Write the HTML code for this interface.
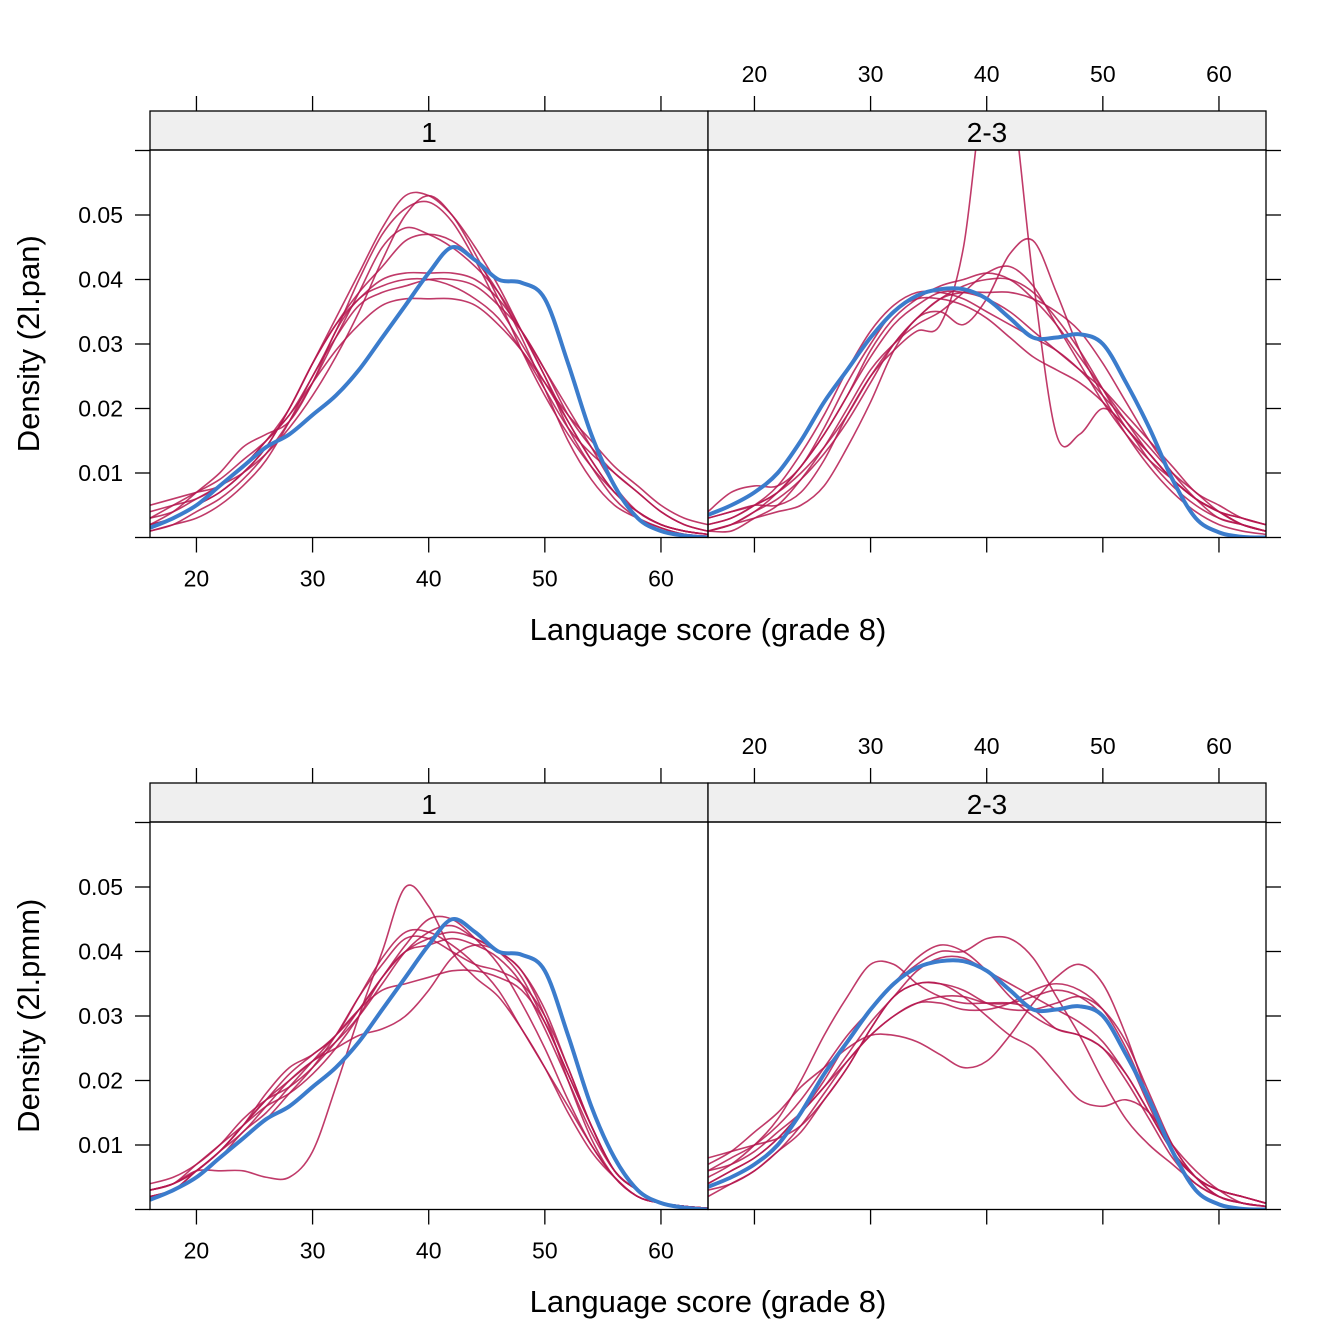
<!DOCTYPE html>
<html><head><meta charset="utf-8"><style>
body{margin:0;background:#fff;}
svg{display:block;font-family:"Liberation Sans",Arial,sans-serif;}
</style></head><body>
<svg id="chart" width="1344" height="1344" viewBox="0 0 1344 1344" xmlns="http://www.w3.org/2000/svg"></svg>
<script>
const xGrid=[16,18,20,22,24,26,28,30,32,34,36,38,40,42,44,46,48,50,52,54,56,58,60,62,64];
const xTicks=[20,30,40,50,60];
const yTicks=[0.01,0.02,0.03,0.04,0.05];
const yTickMarks=[0,0.01,0.02,0.03,0.04,0.05,0.06];
const panelLabels=["1","2-3"];
const rowLabels=["Density (2l.pan)","Density (2l.pmm)"];
const xLabel="Language score (grade 8)";
// observed densities (x0.001)
const obsPanel1=[1.5,3,5,8,11,14,16,19,22,26,31,36,41,45,43,40,39.5,37,27,16,8,3,1,0.3,0];
const obsPanel2=[3.5,5,7,10,15,21,26,31,35,37.5,38.5,38.5,37,34,31,31,31.5,30,24,17,9,3,0.8,0.1,0];
// imputed densities, top row (2l.pan)
const panP1=[
[4,5,6,8,11,15,19,25,32,40,47,51,52,49,43,36,30,24,18,12,7,4,2,1,0.5],
[2,3,5,7,10,14,20,27,34,41,48,53,53,50,45,39,32,25,18,12,7,4,2,1,0.5],
[1,2,3,5,8,12,18,25,31,36,38,39,40,40,39,36,32,26,19,14,10,7,4,2,1],
[2,4,7,10,14,16,18,24,32,37,39,40,40,39,37,34,29,23,17,13,10,7,4,2,1],
[3,5,7,9,12,15,19,24,29,33,36,37,37,37,36,33,29,24,19,15,11,8,5,3,2],
[1,2,4,6,9,13,18,24,31,38,45,48,47,45,42,38,32,25,17,11,6,3,1.5,0.5,0.2],
[5,6,7,8,11,15,20,27,33,38,42,46,47,46,43,38,31,23,15,9,5,3,1.5,0.5,0.2],
[2,3,5,7,10,14,20,27,33,37,40,41,41,41,40,37,32,26,20,14,8,4,2,1,0.5],
[3,4,6,8,10,13,17,22,28,35,43,50,53,50,44,37,29,22,16,11,7,4,2,1,0.5]];
const panP2=[
[3,4,5,5,7,12,19,25,29,32,33,45,72,70,40,16,16,20,17,12,8,5,3,2,1],
[4,7,8,8,11,17,24,30,35,37,37,36,34,31,28,26,24,21,17,13,9,6,4,3,2],
[1,2,4,7,11,16,22,29,34,37,39,40,41,40,37,33,28,23,18,13,9,6,4,2,1],
[1,1,3,5,9,14,20,26,30,33,35,38,41,42,39,33,27,21,16,12,9,6,4,2,1],
[1,2,3,4,5,8,14,21,29,34,35,33,37,44,46,38,29,22,16,11,7,4,2,1,0.5],
[2,3,5,7,11,16,22,28,33,36,38,38,37,35,32,29,26,23,19,15,11,7,5,3,2],
[3,4,5,7,10,14,19,25,30,34,37,39,40,40,38,34,29,23,17,13,9,6,4,3,2],
[1,2,4,6,9,13,18,24,30,34,37,38,38,38,37,35,32,27,21,15,10,6,3,2,1],
[2,3,5,8,13,19,26,32,36,38,38,37,35,33,31,29,26,22,18,14,10,7,4,2,1]];
// imputed densities, bottom row (2l.pmm)
const pmmP1=[
[3,4,6,6,6,5,5,9,19,30,40,50,47,40,36,33,28,22,15,9,5,2,1,0.5,0.2],
[2,3,6,9,13,17,20,23,26,30,35,40,43,44,42,40,37,30,20,11,5,2,1,0.5,0.2],
[3,4,6,9,13,18,22,24,27,31,36,41,45,45,42,38,32,25,17,10,5,2,1,0.5,0.2],
[4,5,7,10,14,17,19,22,26,31,36,40,42,43,42,40,36,29,21,13,6,3,1,0.5,0.2],
[2,3,5,8,12,15,19,23,27,31,34,35,36,37,37,36,34,29,21,13,6,3,1,0.5,0.2],
[3,4,6,9,12,16,20,23,25,27,28,30,34,39,41,40,37,31,22,13,6,3,1,0.5,0.2],
[2,3,6,9,13,17,21,24,27,33,39,43,43,41,38,34,28,22,16,10,5,2,1,0.5,0.2],
[3,4,7,10,13,16,18,21,25,30,36,40,41,42,41,39,35,28,20,12,6,3,1,0.5,0.2],
[2,3,5,8,11,14,18,22,27,33,38,42,42,40,38,37,35,30,22,13,6,3,1,0.5,0.2]];
const pmmP2=[
[6,8,10,13,17,22,27,31,35,39,41,40,37,33,30,28,27,25,20,14,8,4,2,1,0.5],
[5,7,10,14,20,27,33,38,38,35,33,32,32,32,31,28,27,25,21,15,9,5,2,1,0.5],
[7,9,12,15,19,22,25,27,27,26,24,22,23,27,32,36,38,35,27,17,9,5,3,2,1],
[4,6,8,11,15,20,26,31,35,38,40,40,42,42,39,33,27,20,14,10,7,4,2,1,0.5],
[3,4,6,9,12,17,22,28,33,35,35,34,32,31,31,32,33,31,26,18,10,5,2,1,0.5],
[8,9,10,11,13,17,22,28,33,35,35,33,30,27,25,21,17,16,17,15,10,6,3,1,0.5],
[6,7,9,12,15,19,23,27,30,32,33,33,32,32,33,34,33,30,24,16,9,5,3,2,1],
[4,6,8,11,15,19,24,29,33,37,39,39,37,35,33,31,29,26,21,15,9,5,3,2,1],
[2,4,6,9,13,18,23,27,30,32,32,31,31,32,34,35,34,31,25,17,10,5,3,2,1]];

const NS="http://www.w3.org/2000/svg";
const svg=document.getElementById('chart');
function mk(tag,attrs,parent){const e=document.createElementNS(NS,tag);for(const k in attrs)e.setAttribute(k,attrs[k]);(parent||svg).appendChild(e);return e;}
const PX0=[150,708], PW=558, XMIN=16, XMAX=64.05;
const sx=(p,v)=>PX0[p]+(v-XMIN)/(XMAX-XMIN)*PW;
function pathD(p,vals,sy){
  const pts=xGrid.map((x,i)=>[sx(p,x),sy(vals[i]/1000)]);
  let d=`M${pts[0][0]},${pts[0][1]}`;
  for(let i=0;i<pts.length-1;i++){
    const p0=pts[Math.max(0,i-1)],p1=pts[i],p2=pts[i+1],p3=pts[Math.min(pts.length-1,i+2)];
    const c1=[p1[0]+(p2[0]-p0[0])/6,p1[1]+(p2[1]-p0[1])/6];
    const c2=[p2[0]-(p3[0]-p1[0])/6,p2[1]-(p3[1]-p1[1])/6];
    d+=` C${c1[0]},${c1[1]} ${c2[0]},${c2[1]} ${p2[0]},${p2[1]}`;
  }
  return d;
}
function row(r,oy,imp1,imp2){
  const top=150+oy, bot=537.5+oy, stripTop=111+oy;
  const sy=v=>bot-v*6450;
  const g=mk('g',{});
  
  
  const defs=mk('defs',{},g);
  [0,1].forEach(p=>{
    const cp=mk('clipPath',{id:`clip${r}${p}`},defs);
    mk('rect',{x:PX0[p],y:top,width:PW,height:bot-top},cp);
  });
  [0,1].forEach(p=>{
    const strip=mk('rect',{x:PX0[p],y:stripTop,width:PW,height:top-stripTop,fill:'#efefef',stroke:'#000','stroke-width':1.3},g);
    
    
    const st=mk('text',{x:PX0[p]+PW/2,y:top-8,'text-anchor':'middle','font-size':28},g);
    st.textContent=panelLabels[p];
    
    
    const lg=mk('g',{'clip-path':`url(#clip${r}${p})`},g);
    
    
    const imps=p===0?imp1:imp2;
    imps.forEach(vals=>{
      const l=mk('path',{d:pathD(p,vals,sy),fill:'none',stroke:'#b5174f','stroke-opacity':0.85,'stroke-width':1.6},lg);
      
      
    });
    const ob=mk('path',{d:pathD(p,p===0?obsPanel1:obsPanel2,sy),fill:'none',stroke:'#3b7ccc','stroke-width':4},lg);
    
    
    const box=mk('rect',{x:PX0[p],y:top,width:PW,height:bot-top,fill:'none',stroke:'#000','stroke-width':1.3},g);
    
    
    xTicks.forEach(t=>{
      const x=sx(p,t);
      mk('line',{x1:x,x2:x,y1:bot,y2:bot+15,stroke:'#000','stroke-width':1.3},g);
      mk('line',{x1:x,x2:x,y1:stripTop,y2:stripTop-15,stroke:'#000','stroke-width':1.3},g);
      if(p===0){
        const tl=mk('text',{x:x,y:bot+49,'text-anchor':'middle','font-size':23},g);
        tl.textContent=t;
        
        
      } else {
        const tl=mk('text',{x:x,y:stripTop-29,'text-anchor':'middle','font-size':23},g);
        tl.textContent=t;
        
        
      }
    });
  });
  yTickMarks.forEach(t=>{
    const y=sy(t);
    mk('line',{x1:135,x2:150,y1:y,y2:y,stroke:'#000','stroke-width':1.3},g);
    mk('line',{x1:1266,x2:1281,y1:y,y2:y,stroke:'#000','stroke-width':1.3},g);
  });
  yTicks.forEach(t=>{
    const yl=mk('text',{x:123,y:sy(t)+8,'text-anchor':'end','font-size':23},g);
    yl.textContent=t.toFixed(2);
    
    
  });
  const yt=mk('text',{x:0,y:0,'text-anchor':'middle','font-size':31,transform:`translate(39,${(top+bot)/2}) rotate(-90)`},g);
  yt.textContent=rowLabels[r];
  
  
  const xt=mk('text',{x:708,y:640+oy,'text-anchor':'middle','font-size':31},g);
  xt.textContent=xLabel;
  
  
}
row(0,0,panP1,panP2);
row(1,672,pmmP1,pmmP2);
</script>
</body></html>
